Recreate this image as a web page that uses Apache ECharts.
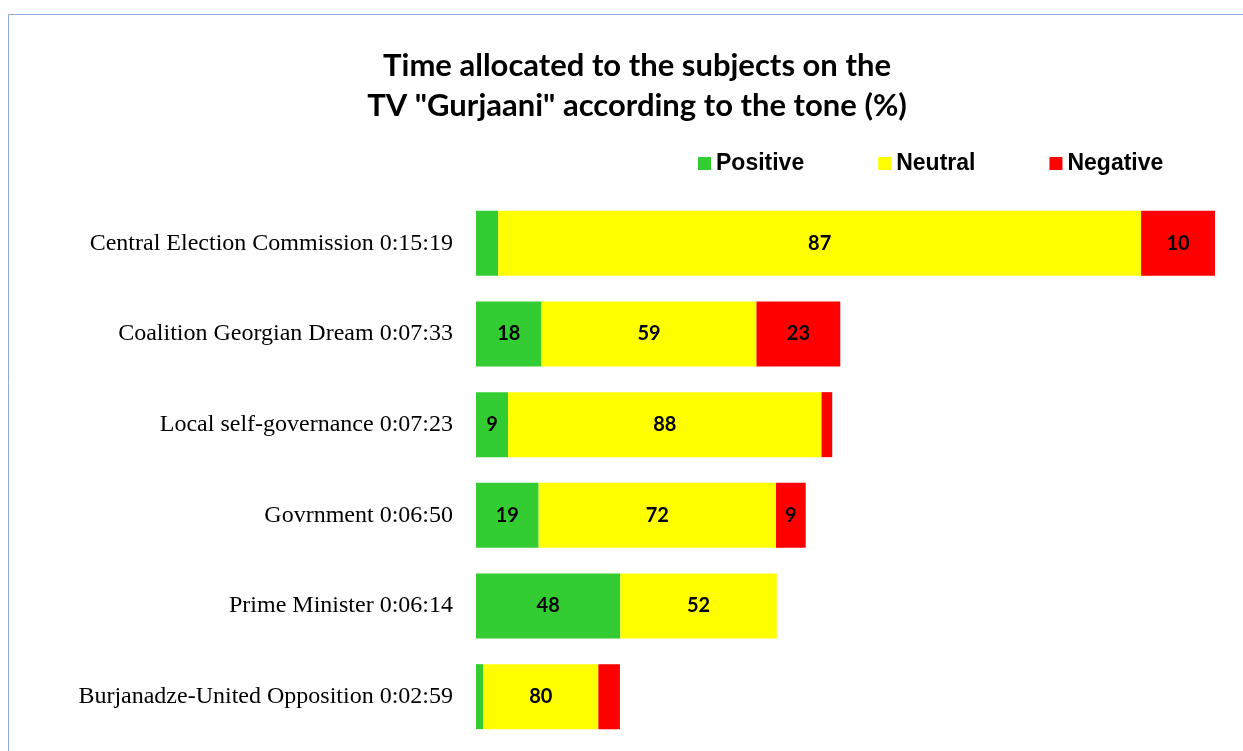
<!DOCTYPE html>
<html><head><meta charset="utf-8">
<script src="https://cdn.jsdelivr.net/npm/echarts@6/dist/echarts.min.js"></script>
<style>html,body{margin:0;padding:0;background:#fff}#c{width:1243px;height:751px}</style>
</head><body><div id="c"></div>
<script>
var categories = ["Central Election Commission 0:15:19","Coalition Georgian Dream 0:07:33","Local self-governance 0:07:23","Govrnment 0:06:50","Prime Minister 0:06:14","Burjanadze-United Opposition 0:02:59"];
var totalSeconds = [919, 453, 443, 410, 374, 179];
var positivePct = [3, 18, 9, 19, 48, 5];
var neutralPct = [87, 59, 88, 72, 52, 80];
var negativePct = [10, 23, 3, 9, 0, 15];
var seriesNames = ["Positive","Neutral","Negative"];
var colors = ["#33cc33","#ffff00","#ff0000"];

function mk(pcts){
  return pcts.map(function(p,i){ return {value: p/100*totalSeconds[i], pct: p}; });
}
var chart = echarts.init(document.getElementById('c'), null, {renderer:'canvas'});
var sets = [positivePct, neutralPct, negativePct];
var series = sets.map(function(s,k){
  return {
    name: seriesNames[k], type:'bar', stack:'t', barWidth:65,
    itemStyle:{color:colors[k]},
    data: mk(s),
    label:{show:true, position:'inside', color:'#000', fontFamily:'Lato', fontWeight:'bold', fontSize:20,
      formatter:function(p){ return p.value >= 30 ? String(p.data.pct) : ''; }}
  };
});
chart.setOption({
  animation:false,
  title:{text:'Time allocated to the subjects on the\nTV "Gurjaani" according to the tone (%)', left:632, textAlign:'center', top:41,
    textStyle:{fontFamily:'Lato', fontWeight:'bold', fontSize:31, lineHeight:40, color:'#000'}},
  legend:{top:147, left:693, itemWidth:13, itemHeight:13, itemGap:74, icon:'rect',
    textStyle:{fontFamily:'Liberation Sans', fontWeight:'bold', fontSize:23, color:'#000'}, data:seriesNames},
  grid:{left:476, width:739, top:198, height:544},
  xAxis:{type:'value', min:0, max:919, show:false},
  yAxis:{type:'category', data:categories, inverse:true, axisLine:{show:false}, axisTick:{show:false},
    axisLabel:{margin:23, color:'#000', fontFamily:'Liberation Serif', fontSize:24}},
  graphic:[{type:'rect', shape:{x:8.5,y:14.5,width:1400,height:900}, style:{fill:'none', stroke:'#8eaadb', lineWidth:1}, silent:true}],
  series: series
});
</script></body></html>
